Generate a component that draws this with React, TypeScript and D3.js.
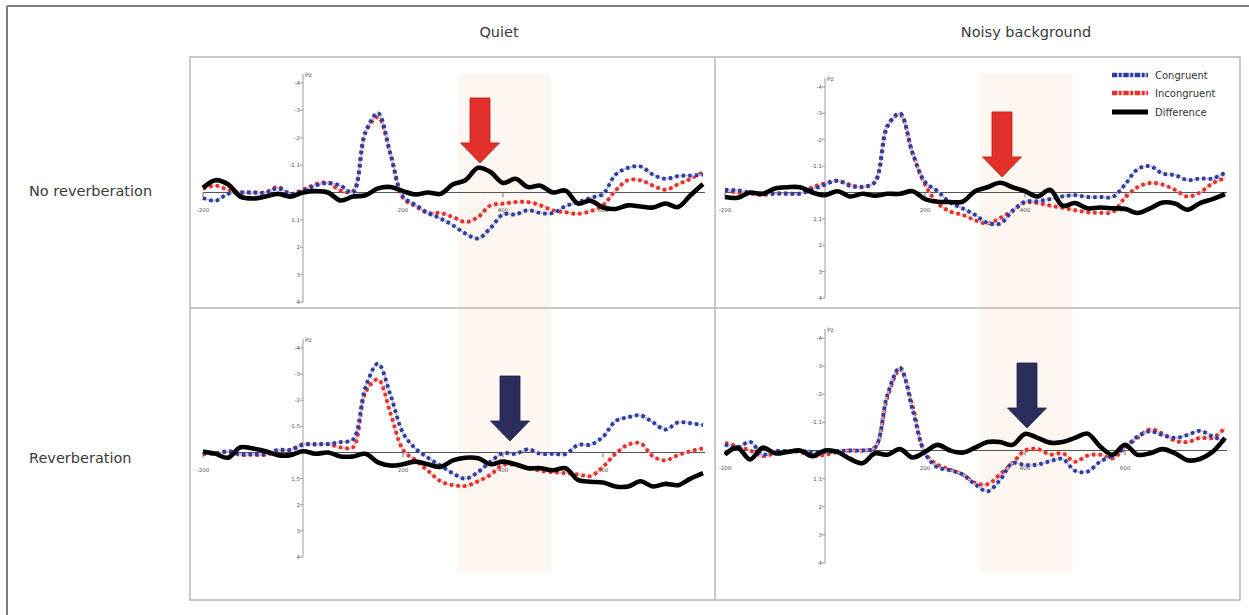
import React, { useEffect, useRef } from 'react';
import * as d3 from 'd3';

// time points (ms) shared by every waveform
const times = [-200, -175, -150, -125, -100, -75, -50, -25, 0, 25, 50, 75, 100, 125, 150, 175, 200, 225, 250, 275, 300, 325, 350, 375, 400, 425, 450, 475, 500, 525, 550, 575, 600, 625, 650, 675, 700, 725, 750, 775, 800];

const columnTitles = ['Quiet', 'Noisy background'];
const rowTitles = ['No reverberation', 'Reverberation'];
const seriesNames = ['Congruent', 'Incongruent', 'Difference'];
const xTicks = [-200, 200, 400, 600];
const xTickLabels = ['-200', '200', '400', '600'];
const yTicks = [-4, -3, -2, -1, 1, 2, 3, 4];
const yTickLabelsA = ['-4', '-3', '-2', '-1.1', '1.1', '2', '3', '4'];
const yTickLabelsB = ['-4', '-3', '-2', '-1.5', '1.5', '2', '3', '4'];
const timeWindow = [310, 495];

// amplitudes in µV (negative up)
const quietDryCongruent = [0.2, 0.3, 0.05, 0, 0, 0, -0.15, 0.05, -0.07, -0.25, -0.35, -0.25, 0, -2.2, -2.9, -1.4, 0.15, 0.45, 0.75, 0.95, 1.2, 1.5, 1.68, 1.3, 0.8, 0.8, 0.65, 0.75, 0.75, 0.5, 0.35, 0.2, 0.05, -0.65, -0.9, -0.95, -0.65, -0.5, -0.6, -0.62, -0.65];
const quietDryIncongruent = [-0.13, -0.25, -0.1, 0, 0, 0, -0.2, 0.05, -0.1, -0.3, -0.36, -0.07, -0.05, -2.2, -2.75, -1.4, 0.2, 0.5, 0.75, 0.75, 0.9, 1.08, 0.9, 0.47, 0.41, 0.35, 0.35, 0.47, 0.65, 0.72, 0.78, 0.68, 0.47, -0.07, -0.45, -0.45, -0.25, -0.1, -0.3, -0.5, -0.74];
const quietDryDifference = [-0.17, -0.45, -0.3, 0.15, 0.22, 0.15, 0.05, 0.15, 0, -0.05, 0, 0.29, 0.15, 0.1, -0.15, -0.2, -0.05, 0.07, 0, 0.05, -0.3, -0.45, -0.9, -0.75, -0.35, -0.5, -0.2, -0.25, 0, -0.07, 0.4, 0.3, 0.55, 0.6, 0.47, 0.51, 0.55, 0.4, 0.53, 0.1, -0.31];

const noisyDryCongruent = [-0.1, -0.08, 0, 0.04, 0.04, 0.04, 0.04, -0.12, -0.3, -0.45, -0.25, -0.22, -0.4, -2.5, -3.0, -1.5, -0.4, -0.05, 0.38, 0.6, 0.85, 1.15, 1.18, 0.7, 0.35, 0.33, 0.25, 0.15, 0.1, 0.17, 0.17, 0.17, -0.3, -0.88, -1.0, -0.72, -0.66, -0.47, -0.53, -0.53, -0.75];
const noisyDryIncongruent = [-0.1, 0, 0.04, 0.1, 0.04, 0.04, 0.04, -0.2, -0.35, -0.44, -0.3, -0.2, -0.4, -2.55, -2.95, -1.5, -0.3, 0.4, 0.72, 0.85, 1.05, 1.18, 0.97, 0.7, 0.38, 0.4, 0.5, 0.58, 0.67, 0.75, 0.77, 0.74, 0.2, -0.2, -0.36, -0.3, -0.1, 0.15, 0, -0.35, -0.55];
const noisyDryDifference = [0.17, 0.2, 0, 0.05, -0.15, -0.2, -0.2, 0, 0.1, -0.05, 0.15, 0.05, 0.12, 0.05, 0.05, -0.05, 0.25, 0.35, 0.36, 0.35, -0.05, -0.2, -0.37, -0.2, -0.05, 0.15, -0.1, 0.5, 0.4, 0.6, 0.57, 0.6, 0.62, 0.78, 0.6, 0.38, 0.42, 0.65, 0.4, 0.25, 0.06];

const quietRevCongruent = [0, 0.05, -0.05, 0.06, 0.06, 0.06, -0.1, -0.1, -0.29, -0.32, -0.32, -0.4, -0.5, -2.5, -3.4, -2.2, -0.75, -0.15, 0.2, 0.5, 0.8, 1.0, 0.75, 0.35, 0.03, 0.05, -0.12, 0.05, 0.05, 0.06, -0.29, -0.3, -0.6, -1.2, -1.35, -1.42, -1.15, -0.88, -1.15, -1.12, -1.05];
const quietRevIncongruent = [0.06, 0.02, -0.02, 0.09, 0.09, 0.09, -0.05, -0.1, -0.32, -0.3, -0.32, -0.2, -0.2, -2.3, -2.8, -1.5, -0.1, 0.3, 0.7, 1.1, 1.25, 1.28, 1.1, 0.85, 0.48, 0.47, 0.58, 0.7, 0.75, 0.79, 0.84, 0.9, 0.55, 0.05, -0.3, -0.35, 0.15, 0.3, 0.1, -0.05, -0.16];
const quietRevDifference = [-0.04, 0.05, 0.2, -0.2, -0.15, -0.05, 0.1, 0.1, -0.05, 0.05, 0, 0.15, 0.15, 0.05, 0.38, 0.5, 0.45, 0.35, 0.45, 0.55, 0.3, 0.2, 0.22, 0.45, 0.35, 0.45, 0.6, 0.6, 0.68, 0.6, 1.05, 1.12, 1.15, 1.3, 1.3, 1.1, 1.3, 1.2, 1.25, 1.0, 0.79];

const noisyRevCongruent = [-0.21, -0.1, -0.31, 0.14, 0.02, 0.02, 0.02, 0.05, 0.06, 0.02, 0, 0, -0.1, -2.0, -2.95, -1.45, 0.1, 0.6, 0.7, 0.85, 1.2, 1.45, 1.05, 0.45, 0.52, 0.5, 0.38, 0.3, 0.72, 0.75, 0.4, 0.18, -0.09, -0.5, -0.68, -0.55, -0.45, -0.55, -0.7, -0.5, -0.33];
const noisyRevIncongruent = [-0.27, -0.15, 0, 0.2, 0.1, 0.05, 0.05, 0.2, 0.15, 0.05, 0, 0, -0.1, -1.9, -2.88, -1.6, 0.1, 0.5, 0.68, 0.85, 1.15, 1.2, 0.85, 0.45, 0, -0.05, 0.14, 0.1, 0.4, 0.18, 0.15, 0.28, -0.1, -0.45, -0.75, -0.6, -0.35, -0.3, -0.45, -0.45, -0.8];
const noisyRevDifference = [0.14, -0.1, 0.32, -0.1, 0.1, 0.05, 0, 0.2, 0, 0.05, 0.3, 0.45, 0.1, 0.15, -0.05, 0.25, 0.05, -0.2, 0, 0.08, -0.1, -0.3, -0.3, -0.2, -0.59, -0.45, -0.28, -0.3, -0.45, -0.6, -0.15, 0.15, -0.2, 0.15, 0.1, -0.05, 0.1, 0.35, 0.3, 0.05, -0.45];

// arrow annotations: [ms, µV at tip]
const arrowAt = [[354, -1.08], [354, -0.59], [414, -0.44], [404, -0.8]];

const BLUE = '#2d3a9e';
const RED = '#e3302b';
const NAVY = '#2b2e5c';
const FONT = "'DejaVu Sans', sans-serif";

const panels = [
  { col: 0, row: 0, series: [quietDryCongruent, quietDryIncongruent, quietDryDifference], yLabels: yTickLabelsA, xr: [203, 703], yr: [83, 302], arrowColor: RED },
  { col: 1, row: 0, series: [noisyDryCongruent, noisyDryIncongruent, noisyDryDifference], yLabels: yTickLabelsA, xr: [725, 1225], yr: [87, 298], arrowColor: RED },
  { col: 0, row: 1, series: [quietRevCongruent, quietRevIncongruent, quietRevDifference], yLabels: yTickLabelsB, xr: [203, 703], yr: [348, 557], arrowColor: NAVY },
  { col: 1, row: 1, series: [noisyRevCongruent, noisyRevIncongruent, noisyRevDifference], yLabels: yTickLabelsA, xr: [725, 1225], yr: [338, 563], arrowColor: NAVY },
];

function drawDotted(g: any, path: string, color: string, pale: string) {
  g.append('path').attr('d', path).attr('fill', 'none').attr('stroke', pale).attr('stroke-width', 1.6);
  g.append('path').attr('d', path).attr('fill', 'none').attr('stroke', color)
    .attr('stroke-width', 3.8).attr('stroke-dasharray', '3.4 3.2');
}

export default function App() {
  const ref = useRef<SVGSVGElement>(null);

  useEffect(() => {
    const svg = d3.select(ref.current);
    svg.selectAll('*').remove();

    // outer frame (only top and left visible)
    svg.append('line').attr('x1', 7).attr('y1', 6).attr('x2', 1249).attr('y2', 6).attr('stroke', '#7d7d7d').attr('stroke-width', 2);
    svg.append('line').attr('x1', 7).attr('y1', 6).attr('x2', 7).attr('y2', 615).attr('stroke', '#7d7d7d').attr('stroke-width', 2);

    // shaded time window, spans both rows in each column
    [[203, 703], [725, 1225]].forEach(xr => {
      const x = d3.scaleLinear().domain([-200, 800]).range(xr);
      svg.append('rect').attr('x', x(timeWindow[0])).attr('y', 74)
        .attr('width', x(timeWindow[1]) - x(timeWindow[0])).attr('height', 498)
        .attr('fill', '#fef6f0');
    });

    // panel grid
    svg.append('rect').attr('x', 190).attr('y', 57).attr('width', 1050).attr('height', 543)
      .attr('fill', 'none').attr('stroke', '#b3b9bd').attr('stroke-width', 1.5);
    svg.append('line').attr('x1', 715).attr('y1', 57).attr('x2', 715).attr('y2', 600).attr('stroke', '#b3b9bd').attr('stroke-width', 1.5);
    svg.append('line').attr('x1', 190).attr('y1', 308).attr('x2', 1240).attr('y2', 308).attr('stroke', '#b3b9bd').attr('stroke-width', 1.5);

    // titles
    const titleX = [499, 1026];
    columnTitles.forEach((t, i) => {
      svg.append('text').attr('x', titleX[i]).attr('y', 37).attr('text-anchor', 'middle')
        .attr('font-family', FONT).attr('font-size', 14.5).attr('fill', '#3a3a3a').text(t);
    });
    const rowY = [196, 463];
    rowTitles.forEach((t, i) => {
      svg.append('text').attr('x', 29).attr('y', rowY[i])
        .attr('font-family', FONT).attr('font-size', 14.5).attr('fill', '#3a3a3a').text(t);
    });

    panels.forEach((p, pi) => {
      const x = d3.scaleLinear().domain([-200, 800]).range(p.xr);
      const y = d3.scaleLinear().domain([-4, 4]).range(p.yr);
      const g = svg.append('g');

      // y axis
      g.append('line').attr('x1', x(0)).attr('x2', x(0)).attr('y1', y(-4) - 9).attr('y2', y(4))
        .attr('stroke', '#8f9ea8').attr('stroke-width', 1);
      g.append('text').attr('x', x(0) + 2).attr('y', y(-4) - 6).attr('font-family', FONT)
        .attr('font-size', 6).attr('fill', '#555').text('Pz');
      yTicks.forEach((v, i) => {
        g.append('line').attr('x1', x(0) - 3).attr('x2', x(0)).attr('y1', y(v)).attr('y2', y(v))
          .attr('stroke', '#8f9ea8');
        g.append('text').attr('x', x(0) - 3).attr('y', y(v) + 2).attr('text-anchor', 'end')
          .attr('font-family', FONT).attr('font-size', 5.5).attr('fill', '#555').text(p.yLabels[i]);
      });

      // x axis
      g.append('line').attr('x1', x(-200)).attr('x2', x(800) + 2).attr('y1', y(0)).attr('y2', y(0))
        .attr('stroke', '#555').attr('stroke-width', 1);
      xTicks.forEach((v, i) => {
        g.append('line').attr('x1', x(v)).attr('x2', x(v)).attr('y1', y(0)).attr('y2', y(0) + 5)
          .attr('stroke', '#777');
        g.append('text').attr('x', x(v)).attr('y', y(0) + 19).attr('text-anchor', 'middle')
          .attr('font-family', FONT).attr('font-size', 5.5).attr('fill', '#555').text(xTickLabels[i]);
      });

      const line = d3.line<number>()
        .x((d, i) => x(times[i]))
        .y(d => y(d))
        .curve(d3.curveCatmullRom.alpha(0.5));

      drawDotted(g, line(p.series[1]) as string, RED, '#f3b5b3');
      drawDotted(g, line(p.series[0]) as string, BLUE, '#b5bbe6');
      g.append('path').attr('d', line(p.series[2]) as string).attr('fill', 'none')
        .attr('stroke', '#000').attr('stroke-width', 4.6).attr('stroke-linejoin', 'round');

      // arrow
      const tx = x(arrowAt[pi][0]);
      const ty = y(arrowAt[pi][1]);
      const pts: [number, number][] = [
        [tx - 10, ty - 65], [tx + 10, ty - 65], [tx + 10, ty - 20], [tx + 19.5, ty - 20],
        [tx, ty], [tx - 19.5, ty - 20], [tx - 10, ty - 20],
      ];
      g.append('path').attr('d', 'M' + pts.map(d => d.join(',')).join('L') + 'Z')
        .attr('fill', p.arrowColor)
        .attr('stroke', p.arrowColor === RED ? '#b81a16' : '#1f2247').attr('stroke-width', 0.8);
    });

    // legend
    const legend = svg.append('g').attr('transform', 'translate(1112,0)');
    const legendY = [75, 93, 112];
    seriesNames.forEach((name, i) => {
      if (i < 2) {
        const c = i === 0 ? BLUE : RED;
        legend.append('line').attr('x1', 0).attr('x2', 36).attr('y1', legendY[i]).attr('y2', legendY[i])
          .attr('stroke', i === 0 ? '#b5bbe6' : '#f3b5b3').attr('stroke-width', 4);
        legend.append('line').attr('x1', 0).attr('x2', 36).attr('y1', legendY[i]).attr('y2', legendY[i])
          .attr('stroke', c).attr('stroke-width', 4.5).attr('stroke-dasharray', '5 2 2.5 2');
      } else {
        legend.append('rect').attr('x', 0).attr('y', legendY[i] - 2.5).attr('width', 36).attr('height', 5)
          .attr('fill', '#000');
      }
      legend.append('text').attr('x', 43).attr('y', legendY[i] + 3.5)
        .attr('font-family', FONT).attr('font-size', 10).attr('fill', '#333').text(name);
    });
  }, []);

  return (
    <svg ref={ref} width={1249} height={615}
      style={{ position: 'absolute', left: 0, top: 0, background: '#fff' }} />
  );
}
